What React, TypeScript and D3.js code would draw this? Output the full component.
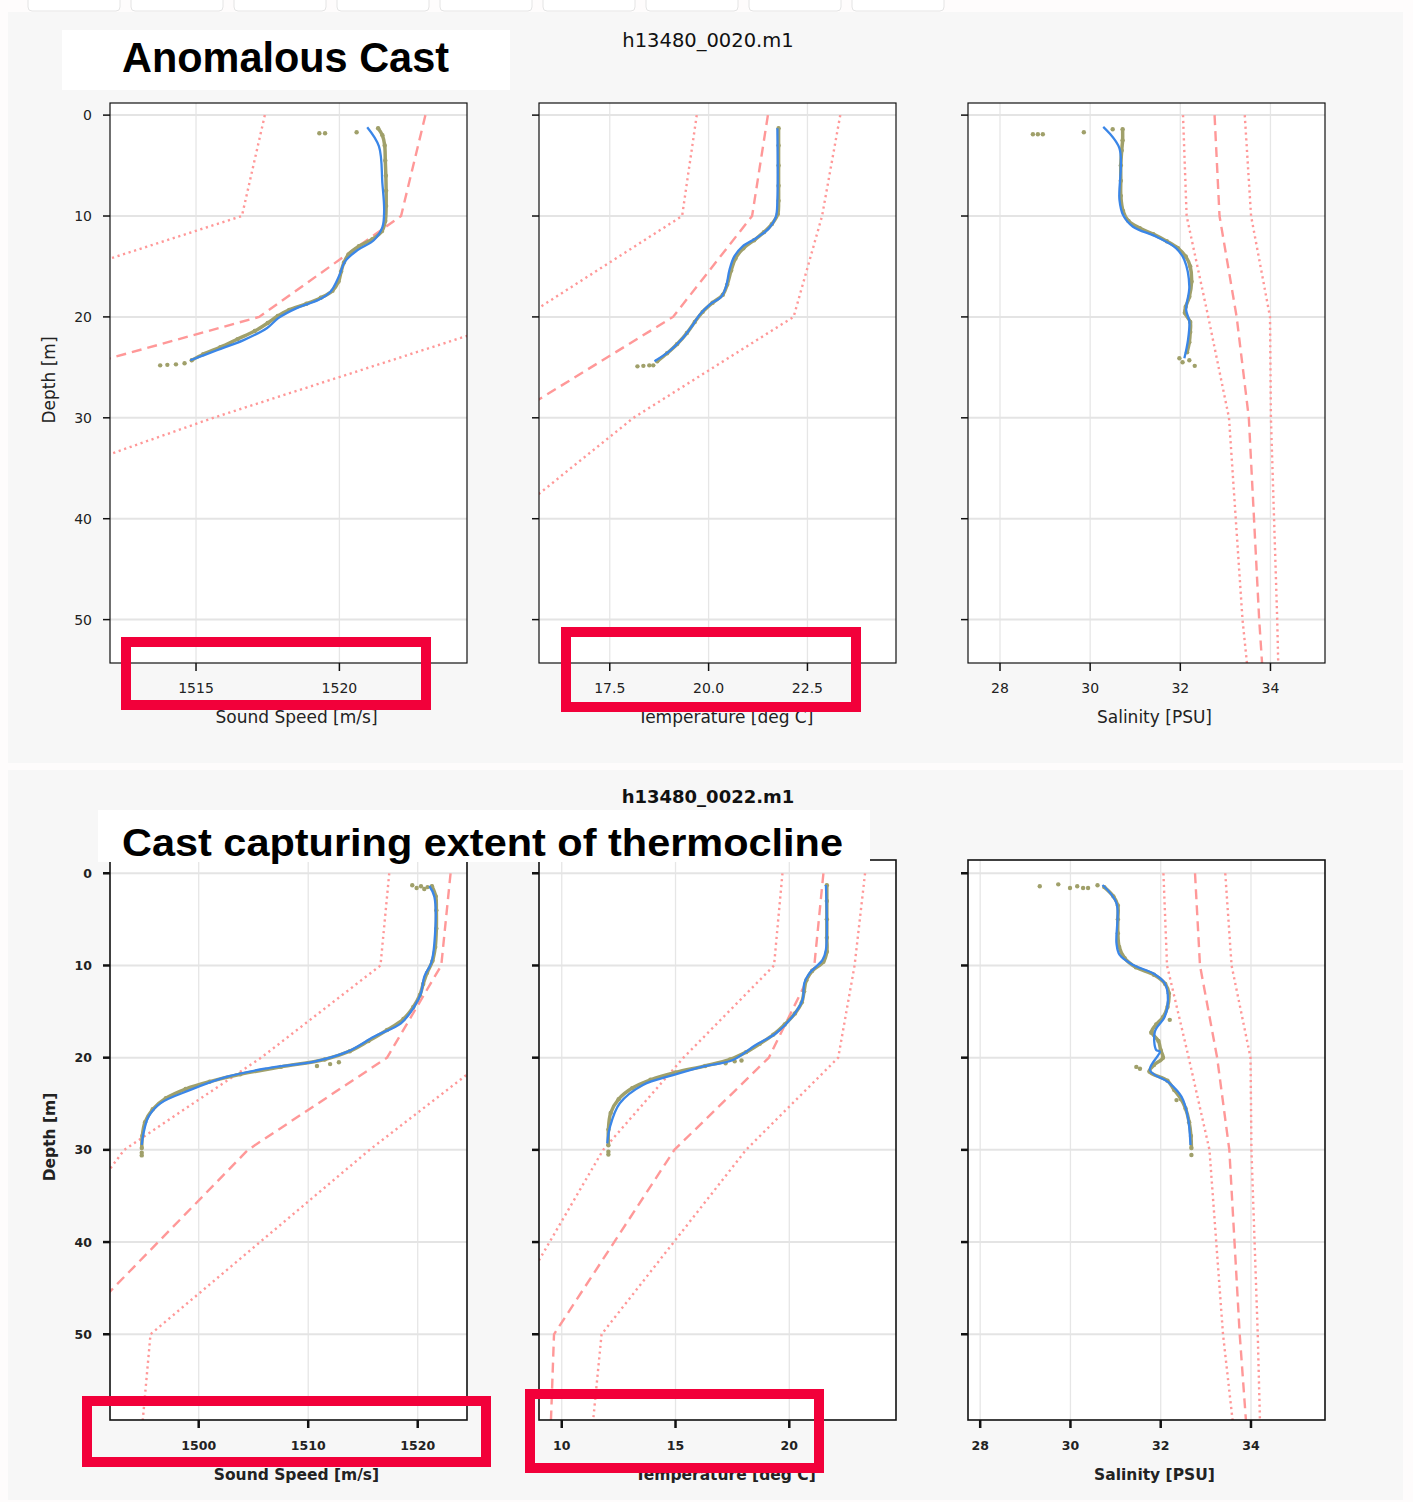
import * as React from 'react';
import * as d3 from 'd3';

// standard climatology depths (m) and depth ticks
const climDepths = [0, 10, 20, 30, 50, 75];
const depthTicks = [0, 10, 20, 30, 40, 50];

// climatology: mean (dashed) and spread (dotted), shared by both casts
const ssMean = [1523.0, 1522.15, 1517.2, 1504.5, 1488.1, 1486.0];
const ssLow = [1517.4, 1516.6, 1505.7, 1493.2, 1480.6, 1479.0];
const ssHigh = [1528.7, 1527.7, 1526.5, 1515.6, 1495.6, 1493.7];

const tMean = [21.5, 21.1, 19.1, 14.95, 9.66, 9.3];
const tLow = [19.7, 19.33, 15.35, 11.82, 7.11, 6.5];
const tHigh = [23.33, 22.87, 22.15, 18.1, 11.75, 10.76];

const sMean = [32.76, 32.87, 33.25, 33.52, 33.75, 34.12];
const sLow = [32.06, 32.14, 32.62, 33.08, 33.38, 33.95];
const sHigh = [33.43, 33.57, 33.99, 34.01, 34.15, 34.28];

// ---- cast h13480_0020 (anomalous) ----
const a_ssDepth = [1.2, 3.1, 6.8, 9.4, 11.1, 12.4, 13.4, 14.5, 16.0, 17.5, 18.3, 19.1, 20.1, 21.1, 22.3, 23.3, 24.3];
const a_ssValue = [1520.97, 1521.38, 1521.5, 1521.56, 1521.5, 1521.2, 1520.62, 1520.2, 1519.98, 1519.69, 1519.28, 1518.53, 1517.88, 1517.48, 1516.66, 1515.73, 1514.8];
const a_ssRawDepth = [1.3, 2.0, 3.0, 4.5, 6.0, 7.5, 9.0, 10.5, 11.5, 12.3, 13.0, 13.8, 14.6, 15.5, 16.5, 17.4, 18.1, 18.7, 19.3, 19.9, 20.6, 21.4, 22.2, 23.0, 23.7, 24.3];
const a_ssRawValue = [1521.35, 1521.5, 1521.58, 1521.6, 1521.62, 1521.63, 1521.63, 1521.6, 1521.48, 1521.15, 1520.68, 1520.32, 1520.16, 1520.06, 1519.97, 1519.76, 1519.35, 1518.85, 1518.25, 1517.85, 1517.5, 1517.05, 1516.45, 1515.85, 1515.25, 1514.85];
const a_ssOutDepth = [1.8, 1.8, 1.7, 24.6, 24.7, 24.75, 24.8];
const a_ssOutValue = [1519.3, 1519.5, 1520.6, 1514.6, 1514.3, 1514.0, 1513.75];

const a_tDepth = [1.3, 8.4, 10.1, 11.2, 12.2, 13.0, 14.0, 15.3, 17.0, 18.0, 18.8, 19.8, 20.8, 22.1, 23.4, 24.4];
const a_tValue = [21.74, 21.74, 21.7, 21.53, 21.2, 20.86, 20.65, 20.53, 20.44, 20.32, 20.02, 19.77, 19.6, 19.35, 19.01, 18.63];
const a_tRawDepth = [1.3, 3, 5, 7, 8.5, 9.8, 10.8, 11.6, 12.4, 13.2, 14.2, 15.4, 16.8, 17.8, 18.6, 19.5, 20.5, 21.6, 22.7, 23.6, 24.4];
const a_tRawValue = [21.77, 21.77, 21.77, 21.77, 21.77, 21.75, 21.6, 21.4, 21.15, 20.88, 20.68, 20.57, 20.47, 20.36, 20.1, 19.85, 19.65, 19.45, 19.2, 18.95, 18.7];
const a_tOutDepth = [24.8, 24.85, 24.9, 24.8];
const a_tOutValue = [18.5, 18.35, 18.2, 18.6];

const a_sDepth = [1.16, 3.3, 8.4, 9.9, 11.06, 12.05, 13.2, 14.36, 17.0, 19.3, 20.47, 22.3, 24.1];
const a_sValue = [30.29, 30.65, 30.65, 30.73, 30.95, 31.47, 31.91, 32.09, 32.2, 32.13, 32.2, 32.17, 32.09];
const a_sRawDepth = [1.4, 2.5, 3.5, 5, 6.5, 8, 9.5, 10.5, 11.2, 11.8, 12.5, 13.2, 14, 15, 16.5, 18, 19, 19.6, 20.5, 21.5, 22.5, 23.5];
const a_sRawValue = [30.72, 30.72, 30.7, 30.68, 30.68, 30.68, 30.73, 30.85, 31.1, 31.4, 31.7, 31.95, 32.12, 32.22, 32.25, 32.2, 32.12, 32.1, 32.22, 32.22, 32.2, 32.15];
const a_sOutDepth = [1.9, 1.9, 1.9, 1.7, 1.4, 24.1, 24.5, 24.85, 24.3];
const a_sOutValue = [28.73, 28.84, 28.95, 29.86, 30.5, 31.98, 32.05, 32.32, 32.2];

// ---- cast h13480_0022 (thermocline) ----
const b_ssDepth = [1.38, 2.54, 7.6, 9.76, 11.2, 13.0, 14.47, 16.27, 17.7, 19.35, 20.43, 21.15, 22.06, 23.5, 24.95, 26.4, 28.2, 29.47];
const b_ssValue = [1521.06, 1521.52, 1521.52, 1521.22, 1520.6, 1520.3, 1519.69, 1518.47, 1516.03, 1513.59, 1510.53, 1506.26, 1502.6, 1499.24, 1496.5, 1495.42, 1494.96, 1494.8];
const b_ssRawDepth = [1.4, 2.5, 4, 6, 8, 9.5, 10.8, 12, 13.2, 14.5, 15.8, 17, 18.2, 19.3, 20.2, 21, 21.8, 22.6, 23.4, 24.4, 25.6, 27, 28.5, 29.8];
const b_ssRawValue = [1521.3, 1521.65, 1521.7, 1521.7, 1521.6, 1521.35, 1520.85, 1520.5, 1520.2, 1519.6, 1518.7, 1517.2, 1515.5, 1513.8, 1511.5, 1507.5, 1503.8, 1501.0, 1498.8, 1497.0, 1495.8, 1495.1, 1494.85, 1494.8];
const b_ssOutDepth = [1.3, 1.6, 1.4, 1.7, 1.5, 20.5, 20.7, 20.9, 30.3, 30.6];
const b_ssOutValue = [1519.5, 1519.9, 1520.3, 1520.6, 1520.9, 1512.8, 1512.0, 1510.8, 1494.8, 1494.8];

const b_tDepth = [1.27, 8.3, 9.4, 10.85, 11.9, 13.74, 15.55, 17.35, 18.6, 20.25, 20.97, 21.9, 22.96, 24.95, 27.5, 29.3];
const b_tValue = [21.61, 21.61, 21.46, 20.88, 20.66, 20.58, 20.14, 19.42, 18.54, 17.52, 16.2, 14.89, 13.57, 12.55, 12.12, 12.0];
const b_tRawDepth = [1.3, 3, 5, 7, 8.5, 9.6, 10.6, 11.6, 12.8, 14, 15.2, 16.4, 17.5, 18.5, 19.4, 20.2, 20.9, 21.6, 22.4, 23.3, 24.5, 26, 27.8, 29.5];
const b_tRawValue = [21.65, 21.65, 21.65, 21.65, 21.65, 21.5, 21.0, 20.75, 20.65, 20.55, 20.25, 19.8, 19.3, 18.7, 18.1, 17.4, 16.3, 15.0, 13.9, 13.1, 12.5, 12.15, 12.05, 12.05];
const b_tOutDepth = [20.3, 20.4, 20.6, 30.2, 30.5];
const b_tOutValue = [17.9, 17.6, 17.2, 12.05, 12.05];

const b_sDepth = [1.27, 3.25, 7.6, 8.86, 9.95, 10.85, 11.93, 13.74, 15.55, 17.18, 19.17, 19.35, 21.33, 22.78, 24.23, 26.4, 29.47];
const b_sValue = [30.71, 31.02, 31.02, 31.09, 31.39, 31.83, 32.09, 32.16, 32.09, 31.87, 31.9, 31.98, 31.76, 32.2, 32.46, 32.6, 32.66];
const b_sRawDepth = [1.5, 2.5, 3.5, 5, 6.5, 8, 9.2, 10.2, 11, 12, 13, 14.5, 15.6, 16.4, 17.2, 18.2, 19.2, 20, 20.8, 21.5, 22.5, 23.5, 24.5, 25.5, 27, 28.5, 29.8];
const b_sRawValue = [30.75, 30.95, 31.05, 31.05, 31.05, 31.08, 31.2, 31.45, 31.85, 32.1, 32.18, 32.15, 32.05, 31.9, 31.8, 31.95, 32.0, 32.05, 31.85, 31.75, 32.15, 32.3, 32.45, 32.55, 32.63, 32.67, 32.68];
const b_sOutDepth = [1.4, 1.2, 1.6, 1.4, 1.6, 1.6, 1.3, 21.0, 21.2, 15.9, 17.3, 24.6, 30.55];
const b_sOutValue = [29.32, 29.73, 29.99, 30.15, 30.28, 30.39, 30.6, 31.46, 31.54, 32.2, 31.79, 32.35, 32.68];

// axis ticks
const a_ssTicks = [1515, 1520];
const a_tTicks = [17.5, 20.0, 22.5];
const b_ssTicks = [1500, 1510, 1520];
const b_tTicks = [10, 15, 20];
const sTicks = [28, 30, 32, 34];

const RED = '#ff9898';
const BLUE = '#3a86e8';
const OLIVE = '#a0a06a';
const BOX = '#f2003a';
const FONT = '"DejaVu Sans", sans-serif';
const TITLE_FONT = '"Liberation Sans", Arial, sans-serif';

const PW = 357;
const PH = 560;
const LEFTS = [110, 539, 968];

const pairs = (ds: number[], vs: number[]) => d3.zip(ds, vs) as [number, number][];

const Panel = ({ id, left, top, yScale, spec, bold, showDepth }) => {
	const xScale = d3.scaleLinear().domain(spec.domain).range([left, left + PW]);
	const bottom = top + PH;
	const straight = d3
		.line<[number, number]>()
		.x(d => xScale(d[1]))
		.y(d => yScale(d[0]));
	const smooth = d3
		.line<[number, number]>()
		.x(d => xScale(d[1]))
		.y(d => yScale(d[0]))
		.curve(d3.curveCatmullRom.alpha(0.5));
	const raw = pairs(spec.rawDepth, spec.rawValue);
	const out = pairs(spec.outDepth, spec.outValue);
	const clipId = `clip-${id}`;
	const tickW = bold ? 2.5 : 1.5;
	const fw = bold ? 'bold' : 'normal';

	return (
		<g>
			<defs>
				<clipPath id={clipId}>
					<rect x={left} y={top} width={PW} height={PH} />
				</clipPath>
			</defs>
			<rect x={left} y={top} width={PW} height={PH} fill='#fff' />
			<g clipPath={`url(#${clipId})`}>
				{spec.ticks.map(t => (
					<line key={'gx' + t} x1={xScale(t)} x2={xScale(t)} y1={top} y2={bottom} stroke='#e6e6e6' strokeWidth={1.3} />
				))}
				{depthTicks.map(t => (
					<line key={'gy' + t} x1={left} x2={left + PW} y1={yScale(t)} y2={yScale(t)} stroke='#e4e4e4' strokeWidth={2} />
				))}
				<path d={straight(pairs(climDepths, spec.low))} fill='none' stroke={RED} strokeWidth={2.4} strokeDasharray='2.2 3.6' />
				<path d={straight(pairs(climDepths, spec.high))} fill='none' stroke={RED} strokeWidth={2.4} strokeDasharray='2.2 3.6' />
				<path d={straight(pairs(climDepths, spec.mean))} fill='none' stroke={RED} strokeWidth={2.4} strokeDasharray='10 6' />
				<path d={smooth(raw)} fill='none' stroke={OLIVE} strokeWidth={3.5} strokeLinecap='round' strokeLinejoin='round' />
				{raw.concat(out).map((p, i) => (
					<circle key={'r' + i} cx={xScale(p[1])} cy={yScale(p[0])} r={2.2} fill={OLIVE} />
				))}
				<path d={smooth(pairs(spec.depth, spec.value))} fill='none' stroke={BLUE} strokeWidth={2.3} strokeLinejoin='round' />
			</g>
			<rect x={left} y={top} width={PW} height={PH} fill='none' stroke='#111' strokeWidth={bold ? 1.6 : 1.2} />
			{depthTicks.map(t => (
				<line key={'ty' + t} x1={left - 7} x2={left} y1={yScale(t)} y2={yScale(t)} stroke='#111' strokeWidth={tickW} />
			))}
			{spec.ticks.map(t => (
				<line key={'tx' + t} x1={xScale(t)} x2={xScale(t)} y1={bottom} y2={bottom + 8} stroke='#111' strokeWidth={tickW} />
			))}
			{showDepth &&
				depthTicks.map(t => (
					<text
						key={'ly' + t}
						x={left - 18}
						y={yScale(t)}
						dy='0.36em'
						textAnchor='end'
						fontFamily={FONT}
						fontWeight={fw}
						fontSize={bold ? 12.5 : 14}
						fill='#222'
					>
						{t}
					</text>
				))}
			{spec.ticks.map(t => (
				<text
					key={'lx' + t}
					x={xScale(t)}
					y={bottom + 30}
					textAnchor='middle'
					fontFamily={FONT}
					fontWeight={fw}
					fontSize={bold ? 12.5 : 14}
					fill='#222'
				>
					{spec.fmt(t)}
				</text>
			))}
			<text
				x={left + PW / 2 + 8}
				y={bottom + 60}
				textAnchor='middle'
				fontFamily={FONT}
				fontWeight={fw}
				fontSize={bold ? 15.5 : 17}
				fill='#222'
			>
				{spec.label}
			</text>
			{showDepth ? (
				<text
					transform={`translate(55 ${top + PH / 2 - 3}) rotate(-90)`}
					textAnchor='middle'
					fontFamily={FONT}
					fontWeight={fw}
					fontSize={bold ? 15.5 : 17}
					fill='#222'
				>
					Depth [m]
				</text>
			) : null}
		</g>
	);
};

const Cast = ({ cast }) => {
	const yScale = d3.scaleLinear().domain(cast.yDomain).range([cast.top, cast.top + PH]);
	return (
		<g>
			{cast.panels.map((spec, i) => (
				<Panel
					key={i}
					id={cast.id + i}
					left={LEFTS[i]}
					top={cast.top}
					yScale={yScale}
					spec={spec}
					bold={cast.bold}
					showDepth={i === 0}
				/>
			))}
			<text
				x={708}
				y={cast.nameY}
				textAnchor='middle'
				fontFamily={FONT}
				fontWeight={cast.bold ? 'bold' : 'normal'}
				fontSize={cast.bold ? 18 : 19.5}
				fill='#111'
			>
				{cast.name}
			</text>
			<rect x={cast.titleBox[0]} y={cast.titleBox[1]} width={cast.titleBox[2]} height={cast.titleBox[3]} fill='#fff' />
			<text
				x={122}
				y={cast.titleY}
				fontFamily={TITLE_FONT}
				fontWeight='bold'
				fontSize={cast.titleSize}
				textLength={cast.titleLen}
				lengthAdjust='spacingAndGlyphs'
				fill='#000'
			>
				{cast.title}
			</text>
			{cast.boxes.map((b, i) => (
				<rect key={i} x={b[0] + 5} y={b[1] + 5} width={b[2] - b[0] - 10} height={b[3] - b[1] - 10} fill='none' stroke={BOX} strokeWidth={10} />
			))}
		</g>
	);
};

const casts = [
	{
		id: 'a',
		name: 'h13480_0020.m1',
		nameY: 47,
		title: 'Anomalous Cast',
		titleY: 72,
		titleSize: 42,
		titleLen: 327,
		titleBox: [62, 30, 448, 60],
		top: 103,
		yDomain: [-1.2, 54.3],
		bold: false,
		boxes: [
			[121, 637, 431, 710],
			[561, 627, 861, 712],
		],
		panels: [
			{
				label: 'Sound Speed [m/s]',
				domain: [1512.0, 1524.45],
				ticks: a_ssTicks,
				fmt: d3.format('d'),
				mean: ssMean,
				low: ssLow,
				high: ssHigh,
				depth: a_ssDepth,
				value: a_ssValue,
				rawDepth: a_ssRawDepth,
				rawValue: a_ssRawValue,
				outDepth: a_ssOutDepth,
				outValue: a_ssOutValue,
			},
			{
				label: 'Temperature [deg C]',
				domain: [15.71, 24.74],
				ticks: a_tTicks,
				fmt: d3.format('.1f'),
				mean: tMean,
				low: tLow,
				high: tHigh,
				depth: a_tDepth,
				value: a_tValue,
				rawDepth: a_tRawDepth,
				rawValue: a_tRawValue,
				outDepth: a_tOutDepth,
				outValue: a_tOutValue,
			},
			{
				label: 'Salinity [PSU]',
				domain: [27.29, 35.21],
				ticks: sTicks,
				fmt: d3.format('d'),
				mean: sMean,
				low: sLow,
				high: sHigh,
				depth: a_sDepth,
				value: a_sValue,
				rawDepth: a_sRawDepth,
				rawValue: a_sRawValue,
				outDepth: a_sOutDepth,
				outValue: a_sOutValue,
			},
		],
	},
	{
		id: 'b',
		name: 'h13480_0022.m1',
		nameY: 803,
		title: 'Cast capturing extent of thermocline',
		titleY: 856,
		titleSize: 38,
		titleLen: 721,
		titleBox: [98, 810, 772, 52],
		top: 860,
		yDomain: [-1.44, 59.3],
		bold: true,
		boxes: [
			[82, 1396, 491, 1467],
			[525, 1389, 824, 1473],
		],
		panels: [
			{
				label: 'Sound Speed [m/s]',
				domain: [1491.9, 1524.5],
				ticks: b_ssTicks,
				fmt: d3.format('d'),
				mean: ssMean,
				low: ssLow,
				high: ssHigh,
				depth: b_ssDepth,
				value: b_ssValue,
				rawDepth: b_ssRawDepth,
				rawValue: b_ssRawValue,
				outDepth: b_ssOutDepth,
				outValue: b_ssOutValue,
			},
			{
				label: 'Temperature [deg C]',
				domain: [9.0, 24.69],
				ticks: b_tTicks,
				fmt: d3.format('d'),
				mean: tMean,
				low: tLow,
				high: tHigh,
				depth: b_tDepth,
				value: b_tValue,
				rawDepth: b_tRawDepth,
				rawValue: b_tRawValue,
				outDepth: b_tOutDepth,
				outValue: b_tOutValue,
			},
			{
				label: 'Salinity [PSU]',
				domain: [27.73, 35.64],
				ticks: sTicks,
				fmt: d3.format('d'),
				mean: sMean,
				low: sLow,
				high: sHigh,
				depth: b_sDepth,
				value: b_sValue,
				rawDepth: b_sRawDepth,
				rawValue: b_sRawValue,
				outDepth: b_sOutDepth,
				outValue: b_sOutValue,
			},
		],
	},
];

// browser tab strip at the very top of the screenshot
const tabs = d3.range(9);

export default function App() {
	return (
		<svg
			width={1413}
			height={1502}
			viewBox='0 0 1413 1502'
			style={{ position: 'absolute', left: 0, top: 0, background: '#fff' }}
		>
			<rect x={0} y={0} width={1413} height={1502} fill='#fefcfc' />
			{tabs.map(i => (
				<rect key={i} x={28 + i * 103} y={-6} width={92} height={17} rx={4} fill='#fff' stroke='#e4e4e4' strokeWidth={1} />
			))}
			<rect x={8} y={12} width={1395} height={751} fill='#f7f7f7' />
			<rect x={8} y={770} width={1395} height={730} fill='#f7f7f7' />
			{casts.map(c => (
				<Cast key={c.id} cast={c} />
			))}
		</svg>
	);
}
